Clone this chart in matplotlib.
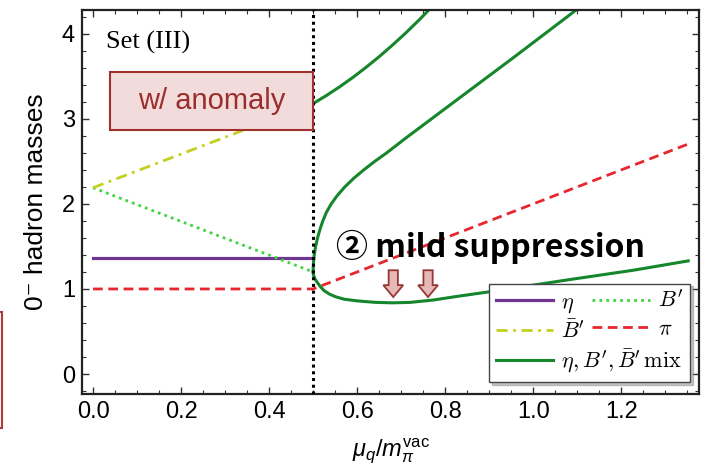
## 0- hadron masses vs quark chemical potential, Set (III) with anomaly

import numpy as np
import matplotlib.pyplot as plt
from matplotlib.patches import Rectangle, FancyArrow
from matplotlib.font_manager import FontProperties

plt.rcParams['mathtext.fontset'] = 'custom'
plt.rcParams['mathtext.rm'] = 'Liberation Sans'
plt.rcParams['mathtext.it'] = 'Liberation Sans:italic'

## hadron phase (mu < 0.5)
eta_x = [0.0, 0.5]
eta_y = [1.365, 1.365]
bp_x = [0.0, 0.5]
bp_y = [2.19, 1.2]
bbar_x = [0.0, 0.5]
bbar_y = [2.19, 3.18]
pi_x = [0.0, 0.5, 1.355]
pi_y = [1.0, 1.0, 2.71]

## mixed eta, B', Bbar' branches (mu > 0.5)
mix_up_x = [0.5, 0.53, 0.56, 0.59, 0.62, 0.65, 0.68, 0.71, 0.74, 0.77]
mix_up_y = [3.18, 3.274, 3.376, 3.486, 3.605, 3.731, 3.866, 4.008, 4.159, 4.318]
mix_mid_x = [0.5, 0.5006, 0.5025, 0.5056, 0.51, 0.5155, 0.522, 0.53, 0.541, 0.555, 0.572,
             0.592, 0.615, 0.64, 0.667, 0.712, 0.805, 0.955, 1.1]
mix_mid_y = [1.2, 1.3, 1.4, 1.5, 1.6, 1.7, 1.8, 1.9, 2.0, 2.1, 2.2,
             2.3, 2.4, 2.5, 2.6, 2.78, 3.14, 3.72, 4.29]
mix_low_x = [0.5, 0.501, 0.504, 0.509, 0.516, 0.525, 0.537, 0.55, 0.57, 0.6, 0.64, 0.68, 0.72,
             0.773, 0.83, 0.891, 1.0, 1.077, 1.227, 1.352]
mix_low_y = [1.2, 1.16, 1.12, 1.08, 1.03, 0.98, 0.94, 0.91, 0.88, 0.86, 0.843, 0.837, 0.842,
             0.87, 0.915, 0.96, 1.045, 1.106, 1.22, 1.33]

mu_c = 0.5
arrow_x = [0.682, 0.761]

fig = plt.figure(figsize=(7.07, 4.75), dpi=100)
ax = fig.add_axes([0.116, 0.1705, 0.873, 0.8085])

c_mix = '#15862c'
l_eta, = ax.plot(eta_x, eta_y, color='#6f3591', lw=2.3)
l_bp, = ax.plot(bp_x, bp_y, color='#3fd43f', lw=2, dashes=(1, 1.5))
l_bbar, = ax.plot(bbar_x, bbar_y, color='#c4cf1f', lw=2, dashes=(4, 2, 1, 2))
l_pi, = ax.plot(pi_x, pi_y, color='#e8262e', lw=2, dashes=(3.5, 2))
l_mix, = ax.plot(mix_up_x, mix_up_y, color=c_mix, lw=2.2)
ax.plot(mix_mid_x, mix_mid_y, color=c_mix, lw=2.2)
ax.plot(mix_low_x, mix_low_y, color=c_mix, lw=2.2)

ax.axvline(mu_c, color='black', lw=2.2, dashes=(1, 1.2), zorder=5)

ax.set_xlim(-0.025, 1.377)
ax.set_ylim(-0.235, 4.28)
ax.set_xticks(np.arange(0, 1.3, 0.2))
ax.set_xticks(np.arange(0, 1.38, 0.05), minor=True)
ax.set_yticks([0, 1, 2, 3, 4])
ax.set_yticks(np.arange(-0.2, 4.3, 0.2), minor=True)
ax.tick_params(which='both', direction='in', top=True, right=True, color='#333333')
ax.tick_params(which='major', length=5, width=1, labelsize=17, pad=5)
ax.tick_params(which='minor', length=3, width=0.8)
for lab in ax.get_xticklabels() + ax.get_yticklabels():
    lab.set_family('Liberation Sans')
for s in ax.spines.values():
    s.set_linewidth(1.6)
    s.set_color('#222222')

ax.set_xlabel(r'$\mu_q/m_\pi^{\mathrm{vac}}$', fontsize=17, labelpad=10)
ax.set_ylabel('0\u207b hadron masses', fontsize=19, family=['Liberation Sans', 'DejaVu Sans'], labelpad=10)

ax.text(0.03, 3.9, 'Set (III)', fontsize=19, family='Liberation Serif', va='center', ha='left')

## "w/ anomaly" box
ax.add_patch(Rectangle((0.039, 2.87), 0.461, 0.68, facecolor='#f2dcdb', edgecolor='#a0302e', lw=1.5, zorder=6))
ax.text(0.27, 3.21, 'w/ anomaly', fontsize=21, color='#9b2d2d', family='Liberation Sans',
        ha='center', va='center', zorder=7)

ax.text(0.553, 1.376, '\u2461 mild suppression', fontsize=23, fontweight='bold',
        family=['Noto Sans CJK JP', 'DejaVu Sans'], ha='left', va='baseline', zorder=7)
for x in arrow_x:
    ax.add_patch(FancyArrow(x, 1.22, 0, -0.315, width=0.021, head_width=0.045, head_length=0.14,
                            length_includes_head=True, facecolor='#e6b8b7', edgecolor='#953735', lw=1.3, zorder=7))

## legend
leg = ax.legend([l_eta, l_bbar, l_mix, l_bp, l_pi],
                [r'$\eta$', r"$\bar{B}'$", r"$\eta, B', \bar{B}'\,\mathrm{mix}$", r"$B'$", r'$\pi$'],
                ncol=2, loc='lower right', bbox_to_anchor=(0.985, 0.031),
                prop=FontProperties(family='DejaVu Serif', size=16, math_fontfamily='cm'),
                handlelength=2.6, handletextpad=0.35, columnspacing=-4.05, labelspacing=0.25,
                borderpad=0.3, borderaxespad=0, fancybox=False, framealpha=1,
                edgecolor='#444444', shadow={'ox': 2, 'oy': -2, 'color': '0.55'})
leg.get_frame().set_linewidth(1.0)
leg.set_zorder(8)

## cut-off box at left edge of the slide
fig.patches.append(Rectangle((-0.05, (475 - 428) / 475), 0.0528, 116 / 475, transform=fig.transFigure,
                             fill=False, edgecolor='#b03a3a', lw=1.5))

fig.savefig('out.png', dpi=100)
